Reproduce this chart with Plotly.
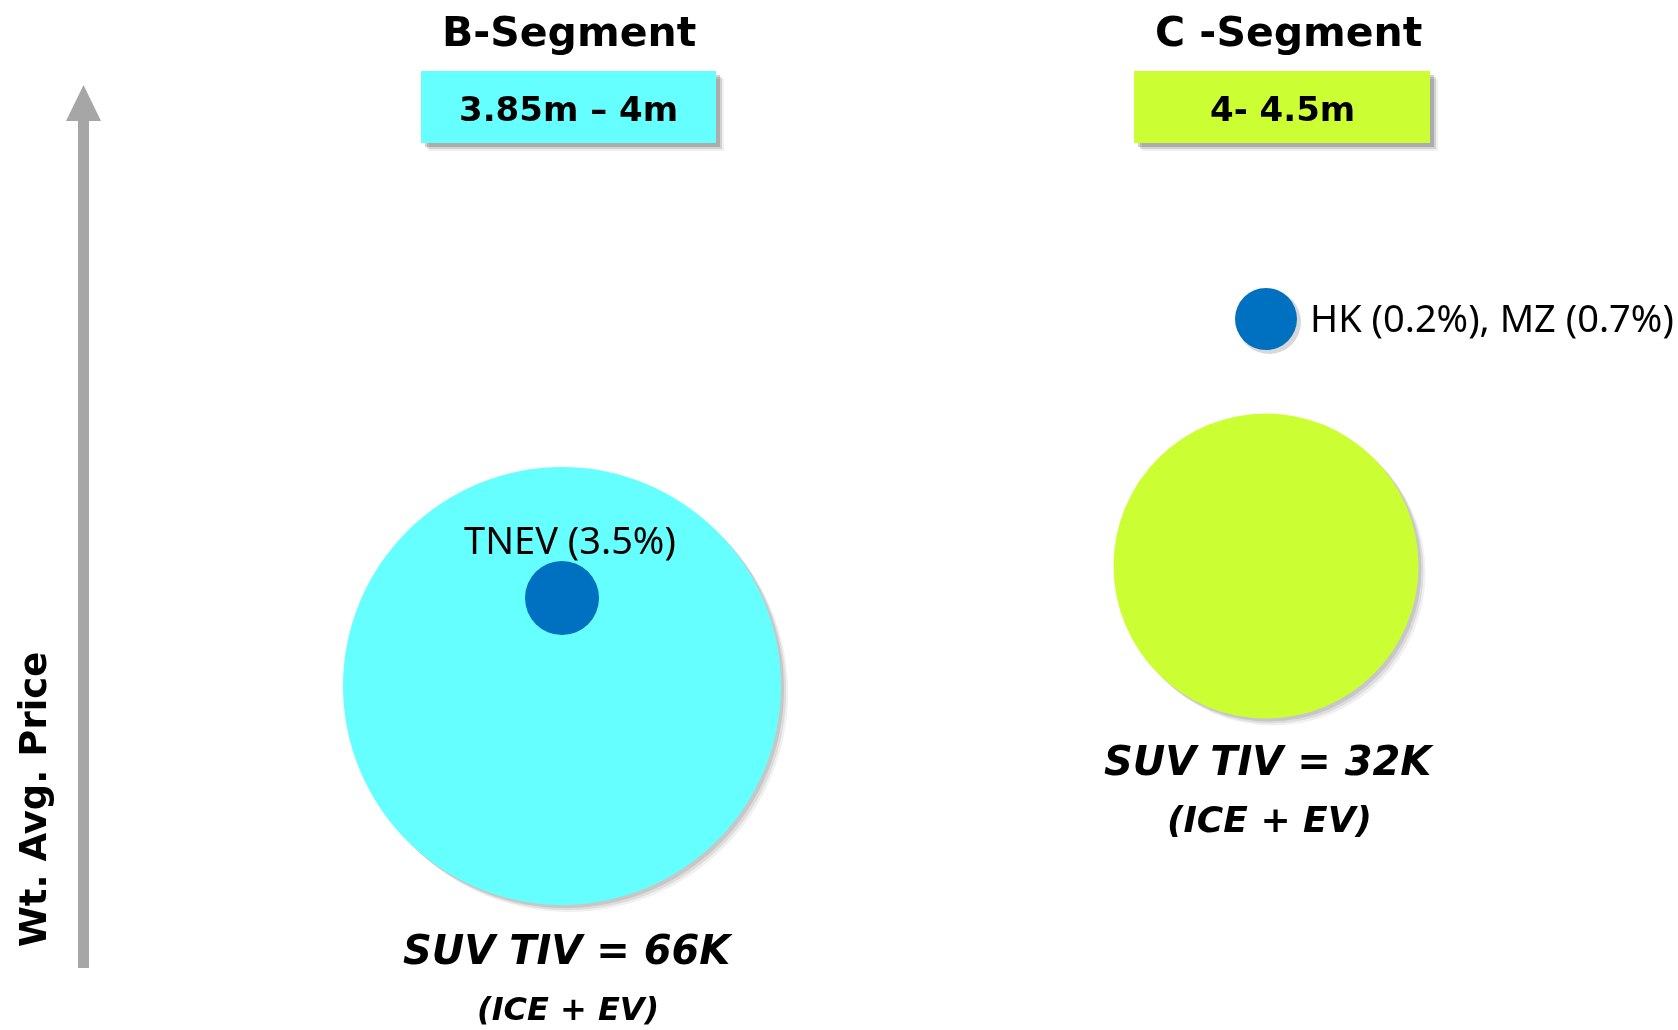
import plotly.graph_objects as go

# ---------------- data ----------------
segments = ["B-Segment", "C -Segment"]
length_ranges = ["3.85m – 4m", "4- 4.5m"]
segment_x = [0, 1]
tiv_k = [66, 32]                    # SUV TIV (ICE + EV), thousands
segment_price = [344, 464]          # relative wt. avg. price (bubble centre)
player_labels = ["TNEV (3.5%)", "HK (0.2%), MZ (0.7%)"]
player_x = [0, 1]
player_price = [432, 711]

# ---------------- styling ----------------
W, H = 1678, 1030
X0, DX = 562, 704                    # pixel position of x=0 and pixels per unit
seg_colors = ["#66FFFF", "#CCFF33"]
dot_color = "#0070C0"
grey = "#A6A6A6"
BOLD = "DejaVu Sans"


def pxx(p):
    return p / W


def pxy(p):
    return 1 - p / H


fig = go.Figure()

sizeref = max(tiv_k) / (2 * 219 ** 2)

# soft shadows for big bubbles
for off, op in [(3, 0.10), (5, 0.08), (7, 0.06)]:
    fig.add_trace(go.Scatter(
        x=[v + off / DX for v in segment_x], y=[v - off for v in segment_price],
        mode="markers", hoverinfo="skip", showlegend=False, opacity=op,
        marker=dict(size=tiv_k, sizemode="area", sizeref=sizeref, opacity=1,
                    color="#000000", line=dict(width=0))))

fig.add_trace(go.Scatter(
    x=segment_x, y=segment_price, mode="markers", showlegend=False,
    marker=dict(size=tiv_k, sizemode="area", sizeref=sizeref, opacity=1,
                color=seg_colors, line=dict(width=0))))

# shadow for HK dot
fig.add_trace(go.Scatter(
    x=[player_x[1] + 3 / DX], y=[player_price[1] - 3], mode="markers",
    hoverinfo="skip", showlegend=False, opacity=0.15,
    marker=dict(size=64, color="#000000", opacity=1, line=dict(width=0))))

fig.add_trace(go.Scatter(
    x=player_x, y=player_price, mode="markers", showlegend=False,
    marker=dict(size=[74, 62], color=dot_color, opacity=1, line=dict(width=0))))

shapes = []
annotations = []

# player labels
label_style = [dict(xanchor="center", xshift=8, yshift=59),
               dict(xanchor="left", xshift=42, yshift=2)]
for lab, px_, py_, st in zip(player_labels, player_x, player_price, label_style):
    annotations.append(dict(text=lab, x=px_, y=py_, xref="x", yref="y",
                            showarrow=False, yanchor="middle",
                            font=dict(family="Noto Sans", size=38, color="#000000"),
                            **st))

# segment header boxes
box_px = [(421, 716), (1134, 1430)]
for (bx0, bx1), col in zip(box_px, seg_colors):
    for off, op in [(4, 0.18), (6, 0.12), (8, 0.06)]:
        shapes.append(dict(type="rect", xref="paper", yref="paper",
                           x0=pxx(bx0 + off), x1=pxx(bx1 + off),
                           y0=pxy(143 + off), y1=pxy(71 + off),
                           fillcolor=f"rgba(0,0,0,{op})", line=dict(width=0),
                           layer="below"))
    shapes.append(dict(type="rect", xref="paper", yref="paper",
                       x0=pxx(bx0), x1=pxx(bx1), y0=pxy(143), y1=pxy(71),
                       fillcolor=col, line=dict(width=0), layer="below"))

title_cx = [569, 1288]
box_cx = [568, 1282]
for seg, rng, tcx, bcx in zip(segments, length_ranges, title_cx, box_cx):
    annotations.append(dict(text=f"<b>{seg}</b>", xref="paper", yref="paper",
                            x=pxx(tcx), y=pxy(32), showarrow=False,
                            xanchor="center", yanchor="middle",
                            font=dict(family=BOLD, size=41, color="#000000")))
    annotations.append(dict(text=f"<b>{rng}</b>", xref="paper", yref="paper",
                            x=pxx(bcx), y=pxy(109), showarrow=False,
                            xanchor="center", yanchor="middle",
                            font=dict(family=BOLD, size=34, color="#000000")))

# TIV labels
tiv_pos = [(568, 950, 1009, 32), (1269, 761, 819, 36)]
for tiv, (cx, y1, y2, s2) in zip(tiv_k, tiv_pos):
    annotations.append(dict(text=f"<b><i>SUV TIV = {tiv}K</i></b>",
                            xref="paper", yref="paper", x=pxx(cx), y=pxy(y1),
                            showarrow=False, xanchor="center", yanchor="middle",
                            font=dict(family=BOLD, size=40, color="#000000")))
    annotations.append(dict(text="<b><i>(ICE + EV)</i></b>",
                            xref="paper", yref="paper", x=pxx(cx), y=pxy(y2),
                            showarrow=False, xanchor="center", yanchor="middle",
                            font=dict(family=BOLD, size=s2, color="#000000")))

# vertical price arrow
shapes.append(dict(type="rect", xref="paper", yref="paper",
                   x0=pxx(78), x1=pxx(89), y0=pxy(968), y1=pxy(120),
                   fillcolor=grey, line=dict(width=0)))
shapes.append(dict(type="path", xref="paper", yref="paper",
                   path=f"M {pxx(66)} {pxy(121)} L {pxx(101)} {pxy(121)} L {pxx(83.5)} {pxy(85)} Z",
                   fillcolor=grey, line=dict(width=0)))
annotations.append(dict(text="<b>Wt. Avg. Price</b>", xref="paper", yref="paper",
                        x=pxx(33), y=pxy(800), showarrow=False, textangle=-90,
                        xanchor="center", yanchor="middle",
                        font=dict(family=BOLD, size=37, color="#000000")))

fig.update_layout(
    width=W, height=H, margin=dict(l=0, r=0, t=0, b=0),
    paper_bgcolor="white", plot_bgcolor="white",
    xaxis=dict(range=[-X0 / DX, (W - X0) / DX], visible=False, fixedrange=True),
    yaxis=dict(range=[0, H], visible=False, fixedrange=True),
    shapes=shapes, annotations=annotations, showlegend=False,
)

fig.write_html("out.html", config={"displayModeBar": False},
               post_script="document.body.style.margin='0';document.body.style.overflow='hidden';")
